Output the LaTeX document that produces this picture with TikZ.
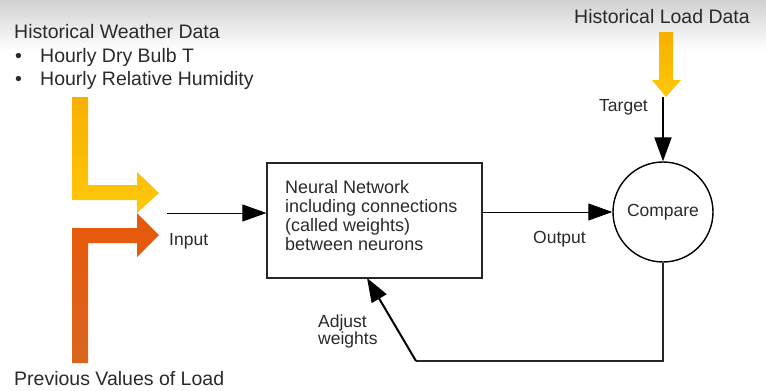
\documentclass[tikz,border=0pt]{standalone}
\usepackage{fontspec}
\setmainfont{Liberation Sans}
\usetikzlibrary{arrows.meta}
\definecolor{txt}{HTML}{2A2A2A}
\definecolor{yelA}{HTML}{F7B000}
\definecolor{yelB}{HTML}{FFC80A}
\definecolor{orA}{HTML}{E8580A}
\definecolor{orB}{HTML}{D9661E}
\tikzset{
  big/.style={font=\fontsize{19.5}{23}\selectfont, text=txt, inner sep=0pt},
  lab/.style={font=\fontsize{17.5}{19}\selectfont, text=txt, inner sep=0pt},
  conn/.style={draw=black, line width=0.9pt, -{Triangle[length=24pt,width=17pt]}},
  heavy/.style={line width=2pt},
  boxst/.style={draw=black!85, line width=1.2pt, minimum width=215pt, minimum height=115pt, inner sep=0pt},
}
\begin{document}
\begin{tikzpicture}[x=1pt,y=-1pt]
\useasboundingbox (0,0) rectangle (766,391);
\shade[top color=black!18, bottom color=white] (0,0) rectangle (766,50);
% texts
\node[big, anchor=base west] (hwd) at (14,38) {Historical Weather Data};
\node[big, anchor=base west] (b1) at (15,62) {\textbullet};
\node[big, anchor=base west] (h1) at (40,62) {Hourly Dry Bulb T};
\node[big, anchor=base west] (b2) at (15,85) {\textbullet};
\node[big, anchor=base west] (h2) at (40,85) {Hourly Relative Humidity};
\node[big, anchor=base west] (pvl) at (14,385) {Previous Values of Load};
\node[big, anchor=base] (hld) at (662,23) {Historical Load Data};
% block arrows
\shade[top color=yelA, bottom color=yelB]
  (72,97) -- (88,97) -- (88,185) -- (137,185) -- (137,172) -- (159,193)
  -- (137,213) -- (137,200) -- (72,200) -- cycle;
\shade[top color=orA, bottom color=orB]
  (72,363) -- (72,228) -- (137,228) -- (137,213) -- (159,235) -- (137,257)
  -- (137,243) -- (88,243) -- (88,363) -- cycle;
\shade[top color=yelA, bottom color=yelB]
  (659,32) -- (673,32) -- (673,80) -- (681,80) -- (666,97) -- (652,80)
  -- (659,80) -- cycle;
% main nodes
\node[boxst] (nn) at (374.5,220.5) {};
\node[lab, anchor=base west, align=left, font=\fontsize{18}{19}\selectfont] (nntext) at (285,250) {Neural Network\\including connections\\(called weights)\\between neurons};
\node[draw=black, circle, line width=1.4pt, minimum size=100pt, lab] (cmp) at (663,212) {Compare};
% labels
\node[lab, anchor=base west] (lin) at (169,245) {Input};
\node[lab, anchor=base west] (lout) at (533,243) {Output};
\node[lab, anchor=base west] (ltgt) at (599,111) {Target};
\node[lab, anchor=base west, align=left, font=\fontsize{17.5}{17}\selectfont] (ladj) at (318,344) {Adjust\\weights};
% connectors
\coordinate (inS) at (167,213);
\coordinate (tgS) at (663,97);
\coordinate (fb) at (416,361);
\coordinate (adjT) at (367,278);
\draw[conn] (inS) -- (nn.west |- inS);
\draw[conn] (nn.east |- cmp.west) -- (cmp.west);
\draw[conn, heavy] (tgS) -- (cmp.north);
\draw[line width=1.3pt, black!85] (cmp.south) |- (fb);
\draw[conn, heavy] (fb) -- (adjT);
\end{tikzpicture}
\end{document}
